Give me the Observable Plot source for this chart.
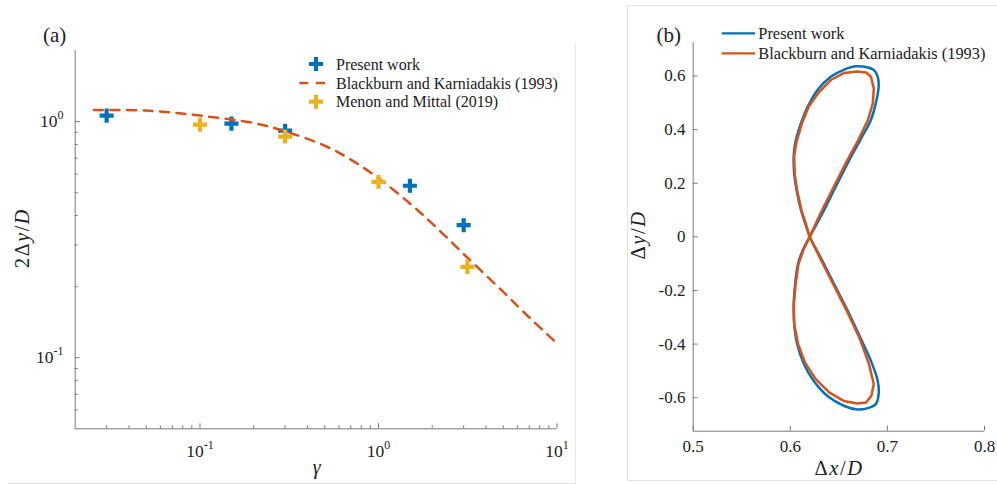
<!DOCTYPE html>
<html><head><meta charset="utf-8">
<script src="https://cdn.jsdelivr.net/npm/d3@7"></script>
<script src="https://cdn.jsdelivr.net/npm/@observablehq/plot@0.6"></script>
<style>
html,body{margin:0;padding:0;background:#fff;}
#root{position:relative;width:997px;height:484px;overflow:hidden;font-family:"Liberation Serif",serif;}
#root svg{position:absolute;top:0;}
#root svg text{font-family:"Liberation Serif","Times New Roman",serif;}
.fl{position:absolute;background:#e4e4e4;}
</style></head><body><div id="root">
<div class="fl" style="left:575px;top:43px;width:1px;height:440px"></div>
<div class="fl" style="left:8px;top:483px;width:568px;height:1px"></div>
<div class="fl" style="left:627px;top:5px;width:1px;height:475px"></div>
<div class="fl" style="left:627px;top:5px;width:370px;height:1px"></div>
<div class="fl" style="left:627px;top:480px;width:370px;height:1px"></div>
</div>
<script>
// ---------- Panel (a) data ----------
const gammaPresent = [0.03, 0.15, 0.3, 1.5, 3];
const ampPresent   = [1.06, 0.98, 0.915, 0.535, 0.364];
const gammaMenon   = [0.1, 0.3, 1, 3.15];
const ampMenon     = [0.97, 0.864, 0.556, 0.2425];
const gammaBB      = [0.0255, 0.05, 0.1, 0.2, 0.3, 0.5, 0.7, 1, 1.5, 2, 3, 5, 7, 10];
const ampBB        = [1.12, 1.113, 1.06, 0.985, 0.91, 0.79, 0.69, 0.575, 0.45, 0.37, 0.275, 0.19, 0.148, 0.115];
const xTicksA      = [0.1, 1, 10];
const xMinorA      = [0.03,0.04,0.05,0.06,0.07,0.08,0.09,0.2,0.3,0.4,0.5,0.6,0.7,0.8,0.9,2,3,4,5,6,7,8,9];
const yTicksA      = [0.1, 1];
const yMinorA      = [0.06,0.07,0.08,0.09,0.2,0.3,0.4,0.5,0.6,0.7,0.8,0.9];
const legendA      = ["Present work", "Blackburn and Karniadakis (1993)", "Menon and Mittal (2019)"];

// ---------- Panel (b) data ----------
const presentDx = [0.620,0.633,0.645,0.659,0.672,0.683,0.688,0.691,0.690,0.686,0.679,0.667,0.655,0.642,0.628,0.618,0.611,0.605,0.6035,0.604,0.6065,0.611,0.6165,
                   0.620,0.631,0.645,0.659,0.672,0.683,0.690,0.691,0.688,0.679,0.669,0.655,0.638,0.624,0.614,0.607,0.604,0.6035,0.605,0.608,0.6135];
const presentDy = [0.000,0.087,0.174,0.274,0.361,0.436,0.498,0.561,0.598,0.623,0.633,0.636,0.623,0.598,0.548,0.486,0.424,0.349,0.299,0.237,0.174,0.100,0.037,
                   0.000,-0.075,-0.175,-0.275,-0.375,-0.462,-0.537,-0.587,-0.624,-0.640,-0.644,-0.630,-0.593,-0.537,-0.474,-0.399,-0.325,-0.250,-0.175,-0.100,-0.044];
const bbDx = [0.620,0.631,0.643,0.657,0.670,0.680,0.685,0.686,0.683,0.678,0.669,0.655,0.642,0.630,0.619,0.612,0.606,0.604,0.6045,0.607,0.6115,0.617,
              0.620,0.630,0.644,0.658,0.671,0.681,0.686,0.6835,0.678,0.669,0.655,0.640,0.626,0.615,0.608,0.604,0.6037,0.6055,0.6085,0.614];
const bbDy = [0.000,0.087,0.174,0.274,0.361,0.436,0.498,0.554,0.598,0.613,0.617,0.611,0.586,0.542,0.486,0.424,0.349,0.299,0.237,0.174,0.100,0.037,
              0.000,-0.075,-0.175,-0.275,-0.375,-0.474,-0.549,-0.593,-0.618,-0.622,-0.612,-0.580,-0.530,-0.468,-0.400,-0.325,-0.250,-0.175,-0.100,-0.044];
const xTicksB = [0.5, 0.6, 0.7, 0.8];
const yTicksB = [-0.6, -0.4, -0.2, 0, 0.2, 0.4, 0.6];
const legendB = ["Present work", "Blackburn and Karniadakis (1993)"];

const BLUE = "#0072BD", ORANGE = "#D95319", YELLOW = "#EDB120";
const AX = "#7a7a7a", TXT = "#222";
const FONT = '"Liberation Serif", "Times New Roman", serif';

const present = gammaPresent.map((g, i) => ({g, a: ampPresent[i]}));
const menon = gammaMenon.map((g, i) => ({g, a: ampMenon[i]}));
const bb = gammaBB.map((g, i) => ({g, a: ampBB[i]}));
const figPresent = presentDx.map((x, i) => ({x, y: presentDy[i]}));
const figBB = bbDx.map((x, i) => ({x, y: bbDy[i]}));

const sup = d => "10^" + Math.round(Math.log10(d));

// ---------- Panel (a) ----------
const A = {w: 580, h: 484, l: 74.7, r: 23.5, t: 50, b: 55.7};
const iwA = A.w - A.l - A.r, ihA = A.h - A.t - A.b;
const plotA = Plot.plot({
  width: A.w, height: A.h, marginLeft: A.l, marginRight: A.r, marginTop: A.t, marginBottom: A.b,
  x: {type: "log", domain: [0.02, 10]},
  y: {type: "log", domain: [0.05, 2]},
  style: {fontSize: "17.5px", color: TXT, background: "transparent", overflow: "visible"},
  marks: [
    Plot.ruleY([0.05], {stroke: AX}),
    Plot.ruleX([0.02], {stroke: AX}),
    Plot.ruleX(xTicksA, {x: d => d, stroke: AX, insetTop: ihA - 5}),
    Plot.ruleX(xMinorA, {x: d => d, stroke: AX, insetTop: ihA - 3}),
    Plot.ruleY(yTicksA, {y: d => d, stroke: AX, insetRight: iwA - 5}),
    Plot.ruleY(yMinorA, {y: d => d, stroke: AX, insetRight: iwA - 3}),
    Plot.axisX({ticks: xTicksA, tickSize: 0, tickPadding: 16, tickFormat: sup, label: null}),
    Plot.axisY({ticks: yTicksA, tickSize: 0, tickPadding: 11.7, tickFormat: sup, label: null}),
    Plot.dot(present, {x: "g", y: "a", symbol: "plus", r: 4.6, stroke: BLUE, strokeWidth: 4.2}),
    Plot.line(bb, {x: "g", y: "a", stroke: ORANGE, strokeWidth: 2.5, strokeDasharray: "9,7.5", curve: "catmull-rom"}),
    Plot.dot(menon, {x: "g", y: "a", symbol: "plus", r: 4.6, stroke: YELLOW, strokeWidth: 4.2})
  ]
});
plotA.style.left = "0px";

// ---------- Panel (b) ----------
const B = {w: 397, h: 484, l: 92.7, r: 13, t: 42, b: 53.3, x0: 600};
const iwB = B.w - B.l - B.r, ihB = B.h - B.t - B.b;
const plotB = Plot.plot({
  width: B.w, height: B.h, marginLeft: B.l, marginRight: B.r, marginTop: B.t, marginBottom: B.b,
  x: {domain: [0.5, 0.8]},
  y: {domain: [-0.725, 0.725]},
  style: {fontSize: "17px", color: TXT, background: "transparent", overflow: "visible"},
  marks: [
    Plot.ruleY([-0.725], {stroke: AX}),
    Plot.ruleX([0.5], {stroke: AX}),
    Plot.ruleX(xTicksB, {x: d => d, stroke: AX, insetTop: ihB - 5}),
    Plot.ruleY(yTicksB, {y: d => d, stroke: AX, insetRight: iwB - 5}),
    Plot.axisX({ticks: xTicksB, tickSize: 0, tickPadding: 9, tickFormat: d => d.toFixed(1), label: null}),
    Plot.axisY({ticks: yTicksB, tickSize: 0, tickPadding: 7.7, tickFormat: d => d === 0 ? "0" : d.toFixed(1), label: null}),
    Plot.line(figPresent, {x: "x", y: "y", curve: "catmull-rom-closed", stroke: BLUE, strokeWidth: 2.5}),
    Plot.line(figBB, {x: "x", y: "y", curve: "linear-closed", stroke: ORANGE, strokeWidth: 2.5})
  ]
});
plotB.style.left = B.x0 + "px";

const root = document.getElementById("root");
root.appendChild(plotA);
root.appendChild(plotB);

// superscripts for log tick labels
d3.select(plotA).selectAll('g[aria-label$="tick label"] text').each(function() {
  const parts = this.textContent.split("^");
  if (parts.length === 2) {
    const t = d3.select(this);
    t.text(parts[0]);
    t.append("tspan").attr("dy", -8).attr("font-size", "12px").text(parts[1]);
  }
});

function mathText(svg, x, y, parts, size, rotate) {
  const t = d3.select(svg).append("text")
    .attr("transform", `translate(${x},${y})` + (rotate ? ` rotate(${rotate})` : ""))
    .attr("text-anchor", "middle").attr("font-family", FONT).attr("font-size", size)
    .attr("letter-spacing", "1.6px").attr("fill", TXT);
  parts.forEach(p => t.append("tspan").attr("font-style", p.i ? "italic" : "normal").text(p.t));
  return t;
}
function plainText(svg, x, y, s, size) {
  return d3.select(svg).append("text").attr("x", x).attr("y", y).attr("text-anchor", "start")
    .attr("font-family", FONT).attr("font-size", size).attr("fill", TXT).text(s);
}

// Panel (a) labels
plainText(plotA, 43, 42, "(a)", 21);
mathText(plotA, 29, 238, [{t: "2"}, {t: "Δ"}, {t: "y", i: 1}, {t: "/"}, {t: "D", i: 1}], 20, -90);
mathText(plotA, 317.6, 474, [{t: "γ", i: 1}], 20, 0);

// Panel (a) legend
const symPlus = d3.symbol().type(d3.symbolPlus).size(Math.PI * 4.6 * 4.6)();
const gA = d3.select(plotA).append("g");
const rowsA = [64, 83, 101.7];
gA.append("path").attr("d", symPlus).attr("transform", `translate(316,${rowsA[0]})`).attr("fill", "none").attr("stroke", BLUE).attr("stroke-width", 4.2);
gA.append("line").attr("x1", 299.3).attr("x2", 325).attr("y1", rowsA[1]).attr("y2", rowsA[1]).attr("stroke", ORANGE).attr("stroke-width", 2.5).attr("stroke-dasharray", "9,7.7");
gA.append("path").attr("d", symPlus).attr("transform", `translate(316,${rowsA[2]})`).attr("fill", "none").attr("stroke", YELLOW).attr("stroke-width", 4.2);
legendA.forEach((s, i) => plainText(plotA, 336, rowsA[i] + 5.5, s, 16));

// Panel (b) labels
plainText(plotB, 656.5 - B.x0, 42, "(b)", 21);
mathText(plotB, 645 - B.x0, 235, [{t: "Δ"}, {t: "y", i: 1}, {t: "/"}, {t: "D", i: 1}], 20.5, -90);
mathText(plotB, 839 - B.x0, 474.5, [{t: "Δ"}, {t: "x", i: 1}, {t: "/"}, {t: "D", i: 1}], 20.5, 0);

// Panel (b) legend
const rowsB = [33.3, 53.3];
[BLUE, ORANGE].forEach((c, i) => {
  d3.select(plotB).append("line").attr("x1", 721.7 - B.x0).attr("x2", 755 - B.x0)
    .attr("y1", rowsB[i]).attr("y2", rowsB[i]).attr("stroke", c).attr("stroke-width", 2.2);
  plainText(plotB, 758.3 - B.x0, rowsB[i] + 5.7, legendB[i], 16.4);
});

// force serif font on every text (incl. Plot's tick labels)
[plotA, plotB].forEach(s => d3.select(s).selectAll("text").attr("font-family", FONT).style("font-family", FONT));
</script></body></html>
